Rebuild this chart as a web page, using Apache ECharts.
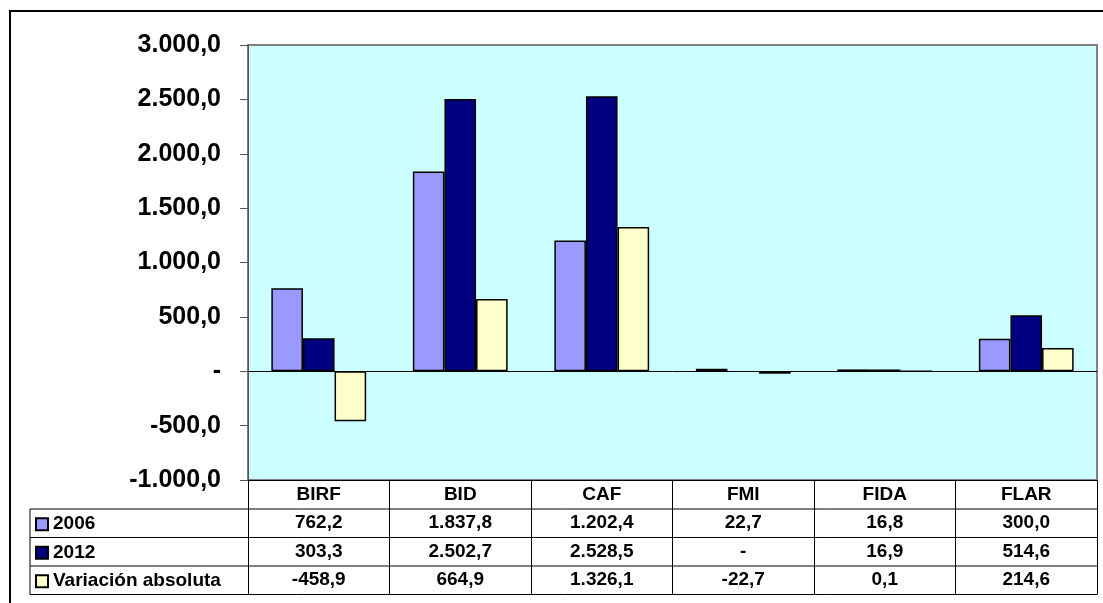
<!DOCTYPE html>
<html>
<head>
<meta charset="utf-8">
<script src="https://cdn.jsdelivr.net/npm/echarts@6/dist/echarts.min.js"></script>
<style>html,body{margin:0;padding:0;background:#fff;}#c{width:1103px;height:603px;}</style>
</head>
<body>
<div id="c"></div>
<script>
var categories = ['BIRF', 'BID', 'CAF', 'FMI', 'FIDA', 'FLAR'];
var seriesNames = ['2006', '2012', 'Variación absoluta'];
var values2006 = [762.2, 1837.8, 1202.4, 22.7, 16.8, 300.0];
var values2012 = [303.3, 2502.7, 2528.5, null, 16.9, 514.6];
var valuesVar = [-458.9, 664.9, 1326.1, -22.7, 0.1, 214.6];
var yMin = -1000, yMax = 3000, yStep = 500;

function fmt(v) {
  if (v === null || v === undefined || v === 0) return '-';
  var neg = v < 0;
  var s = Math.abs(v).toFixed(1);
  var parts = s.split('.');
  var ip = parts[0].replace(/\B(?=(\d{3})+(?!\d))/g, '.');
  return (neg ? '-' : '') + ip + ',' + parts[1];
}

var FONT = 'Liberation Sans, Arial, sans-serif';
var TFS = 19;
var G = {left: 248, right: 6, top: 45, bottom: 123};
var ROW = 28.5;
var tableTop = 603 - G.bottom;          // 480
var rowTops = [tableTop + 29, tableTop + 29 + ROW, tableTop + 29 + 2 * ROW, tableTop + 29 + 3 * ROW];
var tableLeft = 30, tableRight = 1103 - G.right;

var chart = echarts.init(document.getElementById('c'), null, {renderer: 'canvas'});

var rowAxis = function (vals, i) {
  return {
    type: 'category', position: 'bottom', gridIndex: 0, offset: Math.round(rowTops[i] - tableTop),
    data: vals.map(fmt),
    axisLine: {show: false, onZero: false}, axisTick: {show: false}, splitLine: {show: false},
    axisLabel: {interval: 0, margin: 0, lineHeight: ROW, fontFamily: FONT, fontWeight: 'bold', fontSize: TFS, color: '#000'}
  };
};

var barStyle = function (color) {
  return {color: color, borderColor: '#000', borderWidth: 1.5};
};

var graphics = [
  {type: 'rect', z: -10, shape: {x: 10, y: 11, width: 1200, height: 700}, style: {fill: 'none', stroke: '#000', lineWidth: 2}}
];
rowTops.forEach(function (y) {
  graphics.push({type: 'line', z: 10, shape: {x1: tableLeft, y1: y, x2: tableRight, y2: y}, style: {stroke: '#000', lineWidth: 1}});
});
graphics.push({type: 'line', z: 10, shape: {x1: tableLeft, y1: rowTops[0], x2: tableLeft, y2: rowTops[3]}, style: {stroke: '#000', lineWidth: 1}});

var option = {
  animation: false,
  backgroundColor: '#fff',
  grid: {left: G.left, right: G.right, top: G.top, bottom: G.bottom, show: true, backgroundColor: '#CCFFFF', borderColor: '#808080', borderWidth: 2},
  legend: {
    orient: 'vertical', left: 35, top: rowTops[0] + (ROW - 20) / 2 + 1, padding: 0, itemGap: ROW - 20, itemWidth: 12, itemHeight: 12,
    icon: 'rect', selectedMode: false,
    data: seriesNames,
    textStyle: {fontFamily: FONT, fontWeight: 'bold', fontSize: TFS, lineHeight: 20, color: '#000'}
  },
  xAxis: [
    {
      type: 'category', position: 'bottom', data: categories,
      axisLine: {show: true, onZero: false, lineStyle: {color: '#000', width: 1}},
      axisTick: {show: true, interval: 0, length: rowTops[3] - tableTop, lineStyle: {color: '#000', width: 1}},
      axisLabel: {interval: 0, margin: 0, lineHeight: 29, fontFamily: FONT, fontWeight: 'bold', fontSize: TFS, color: '#000'}
    },
    rowAxis(values2006, 0),
    rowAxis(values2012, 1),
    rowAxis(valuesVar, 2)
  ],
  yAxis: {
    type: 'value', min: yMin, max: yMax, interval: yStep,
    axisLine: {show: true, lineStyle: {color: '#555', width: 1}},
    axisTick: {show: true, length: 8, lineStyle: {color: '#555'}},
    splitLine: {show: false},
    axisLabel: {margin: 27, fontFamily: FONT, fontWeight: 'bold', fontSize: 25, color: '#000', formatter: function (v) { return fmt(v); }}
  },
  series: [
    {name: seriesNames[0], type: 'bar', data: values2006, barGap: '0%', barCategoryGap: '33%', itemStyle: barStyle('#9999FF'),
     markLine: {silent: true, symbol: 'none', label: {show: false}, lineStyle: {color: '#000', width: 1, type: 'solid'}, data: [{yAxis: 0}]}},
    {name: seriesNames[1], type: 'bar', data: values2012, barGap: '0%', barCategoryGap: '33%', itemStyle: barStyle('#000080')},
    {name: seriesNames[2], type: 'bar', data: valuesVar, barGap: '0%', barCategoryGap: '33%', itemStyle: barStyle('#FFFFCC')}
  ],
  graphic: graphics
};
chart.setOption(option);
</script>
</body>
</html>
